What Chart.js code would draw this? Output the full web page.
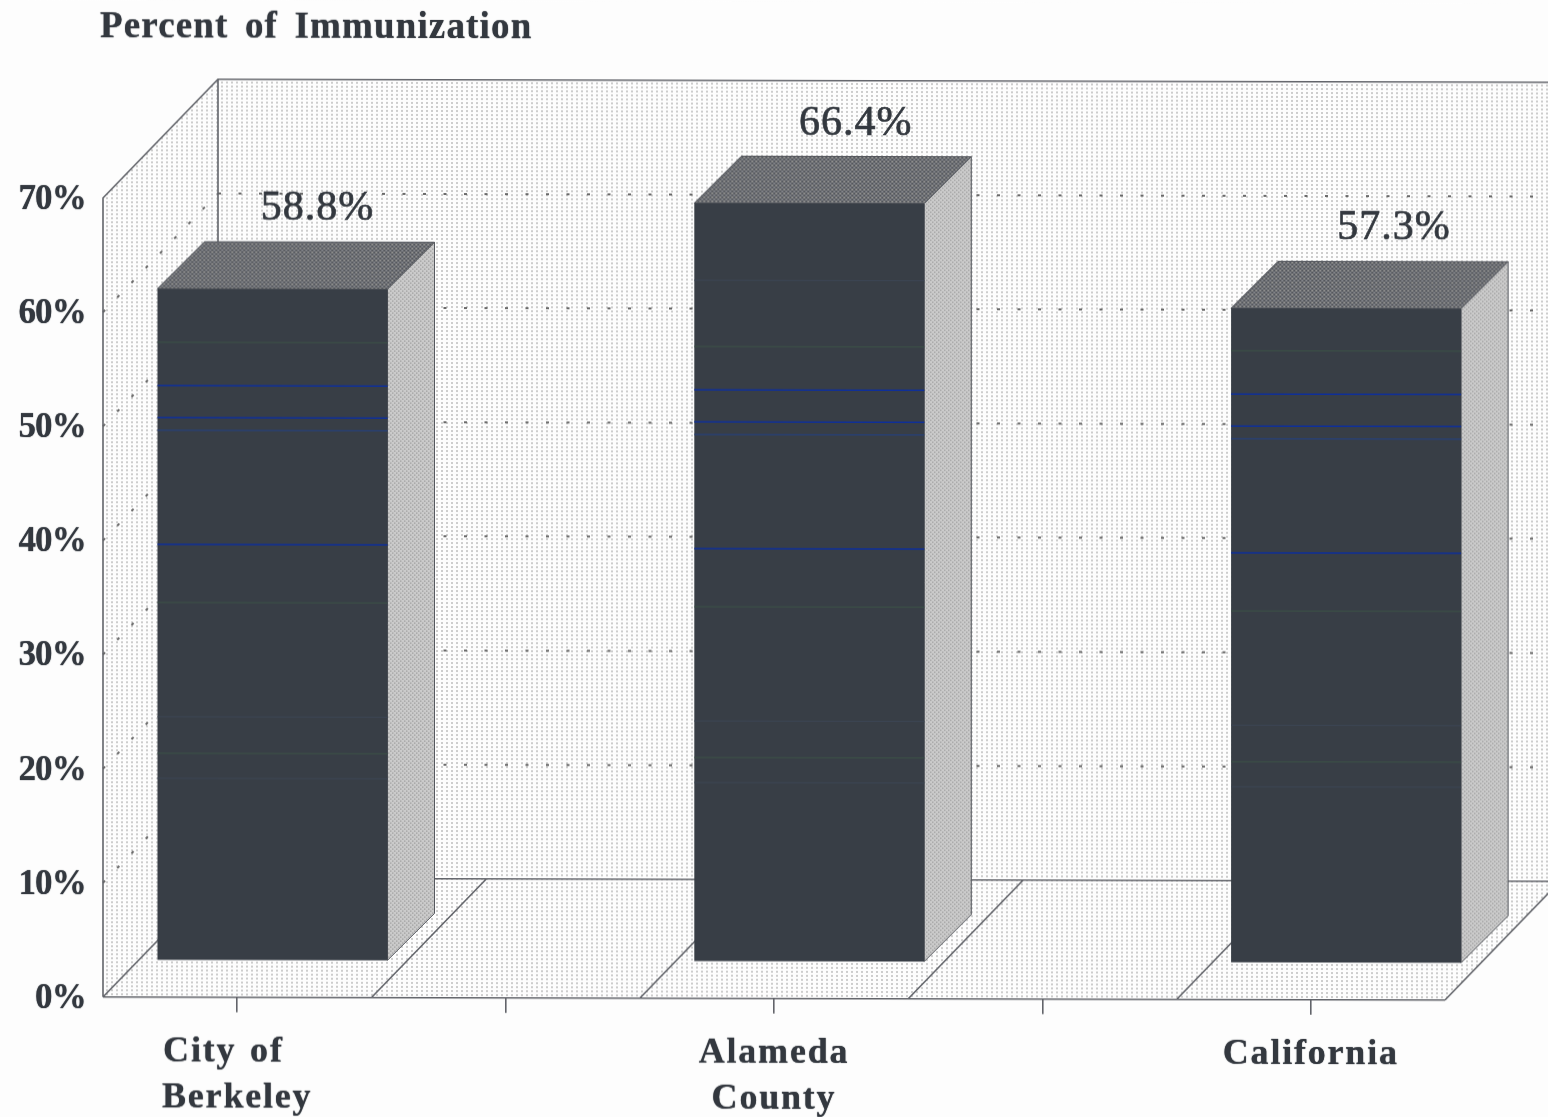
<!DOCTYPE html>
<html>
<head>
<meta charset="utf-8">
<title>Percent of Immunization</title>
<style>
html,body{margin:0;padding:0;background:#fdfdfd;overflow:hidden}
#wrap{width:1548px;height:1117px;overflow:hidden;background:#fdfdfd}
canvas{display:block;transform-origin:0 0;transform:matrix(1,0.00228,0,1,0,0);filter:blur(0.45px)}
</style>
<script src="https://cdn.jsdelivr.net/npm/chart.js@4"></script>
</head>
<body>
<div id="wrap"><canvas id="c" width="1548" height="1117"></canvas></div>
<script>
const titleText = "Percent of Immunization";
const categories = [["City of  ", "Berkeley"], "", ["Alameda", "County"], "", "California"];
const percentValues = [58.8, null, 66.4, null, 57.3];
const axisMax = 70;
const axisStep = 10;
const streakBlue = [50.3, 47.5, 36.4];
const streakBlueFaint = [46.4];
const streakGreen = [54.1, 31.3, 18.1];
const streakFaint = [59.9, 21.3, 15.9];

const INK = '#33383f', LINE = '#62646a', BAR = '#383e46';
const WALL = {dx: 115, dy: -119}, BARPLANE = {dx: 35.3, dy: -37.4}, DEPTH = 47;

function tile(w, h, bg, dots) {
  const t = document.createElement('canvas'); t.width = w; t.height = h;
  const g = t.getContext('2d'); g.fillStyle = bg; g.fillRect(0, 0, w, h);
  dots.forEach(d => { g.fillStyle = d[3]; g.fillRect(d[0], d[1], d[2], d[2]); });
  return t;
}

function wrapText(obj, name, chart, dx, dy, ls, ws) {
  const orig = obj[name].bind(obj);
  obj[name] = function (a) {
    const c = chart.ctx; c.save(); c.translate(dx, dy);
    c.letterSpacing = ls; c.wordSpacing = ws;
    c.shadowColor = INK; c.shadowBlur = 1;
    orig(a); c.restore();
  };
}

const scene = {
  id: 'scene',
  afterLayout(chart) {
    if (chart._wrappedText) return;
    chart._wrappedText = true;
    wrapText(chart.titleBlock, 'draw', chart, -3, 1, '1.15px', '6px');
    wrapText(chart.scales.x, 'drawLabels', chart, 0, 0, '1.8px', '3px');
    wrapText(chart.scales.y, 'drawLabels', chart, 0, 2, '-0.8px', '0px');
  },
  beforeDraw(chart) {
    const c = chart.ctx, a = chart.chartArea, y = chart.scales.y;
    const wallPat = c.createPattern(tile(5, 4, '#fdfdfd', [[1, 1, 2, '#cdcdcd']]), 'repeat');
    const L = a.left, R = a.right + 140, B = a.bottom, T = a.top;
    c.save();
    c.fillStyle = '#fdfdfd'; c.fillRect(-10, -10, 1600, 1200);
    c.fillStyle = wallPat;
    c.beginPath();
    c.moveTo(L, T); c.lineTo(L + WALL.dx, T + WALL.dy); c.lineTo(R + WALL.dx, T + WALL.dy);
    c.lineTo(R + WALL.dx, B + WALL.dy); c.lineTo(a.right + WALL.dx, B + WALL.dy);
    c.lineTo(a.right, B); c.lineTo(L, B); c.closePath(); c.fill();
    c.strokeStyle = '#6a6a6a'; c.lineWidth = 2; c.setLineDash([3, 17.5]);
    y.ticks.forEach(t => {
      if (t.value <= 0 || t.value >= axisMax) return;
      const p = y.getPixelForValue(t.value);
      c.beginPath(); c.moveTo(L + WALL.dx, p + WALL.dy); c.lineTo(R + WALL.dx, p + WALL.dy); c.stroke();
      c.beginPath(); c.moveTo(L, p); c.lineTo(L + WALL.dx, p + WALL.dy); c.stroke();
    });
    c.setLineDash([]);
    c.strokeStyle = LINE; c.lineWidth = 1.6;
    c.beginPath();
    c.moveTo(L, B); c.lineTo(L, T); c.lineTo(L + WALL.dx, T + WALL.dy); c.lineTo(R + WALL.dx, T + WALL.dy);
    c.moveTo(L + WALL.dx, T + WALL.dy); c.lineTo(L + WALL.dx, B + WALL.dy);
    c.moveTo(L + WALL.dx, B + WALL.dy); c.lineTo(R + WALL.dx, B + WALL.dy);
    c.moveTo(L, B); c.lineTo(a.right, B);
    const w = (a.right - a.left) / categories.length;
    for (let i = 0; i <= categories.length; i++) {
      c.moveTo(L + i * w, B); c.lineTo(L + i * w + WALL.dx, B + WALL.dy);
    }
    c.stroke();
    c.restore();
  },
  beforeDatasetsDraw(chart) {
    const c = chart.ctx, meta = chart.getDatasetMeta(0);
    const topPat = c.createPattern(tile(4, 4, '#54575d', [[0, 0, 2, '#90908f'], [2, 2, 2, '#83858a']]), 'repeat');
    const sidePat = c.createPattern(tile(4, 4, '#cbcbcb', [[1, 1, 1, '#7d7d7d'], [3, 3, 1, '#7d7d7d']]), 'repeat');
    c.save();
    c.translate(BARPLANE.dx, BARPLANE.dy);
    meta.data.forEach((el, i) => {
      if (percentValues[i] === null) return;
      const l = el.x - el.width / 2, r = el.x + el.width / 2, t = el.y, b = el.base;
      c.strokeStyle = '#55585e'; c.lineWidth = 1;
      c.fillStyle = topPat; c.beginPath();
      c.moveTo(l, t); c.lineTo(r, t); c.lineTo(r + DEPTH, t - DEPTH); c.lineTo(l + DEPTH, t - DEPTH); c.closePath(); c.fill(); c.stroke();
      c.fillStyle = sidePat; c.beginPath();
      c.moveTo(r, t); c.lineTo(r + DEPTH, t - DEPTH); c.lineTo(r + DEPTH, b - DEPTH); c.lineTo(r, b); c.closePath(); c.fill(); c.stroke();
    });
  },
  afterDatasetsDraw(chart) {
    const c = chart.ctx, meta = chart.getDatasetMeta(0), y = chart.scales.y;
    meta.data.forEach((el, i) => {
      const v = percentValues[i];
      if (v === null) return;
      const l = el.x - el.width / 2, r = el.x + el.width / 2;
      const streak = (list, color, lw) => {
        c.strokeStyle = color; c.lineWidth = lw;
        list.forEach(s => {
          if (s >= v) return;
          const p = y.getPixelForValue(s) + i * 1.5;
          c.beginPath(); c.moveTo(l, p); c.lineTo(r, p); c.stroke();
        });
      };
      streak(streakFaint, '#3b4452', 1.2);
      streak(streakGreen, '#3b4f47', 1.2);
      streak(streakBlueFaint, '#26407a', 1.2);
      streak(streakBlue, '#0e2f9a', 1.5);
      c.save();
      c.fillStyle = INK; c.strokeStyle = INK; c.lineWidth = 0.7;
      c.font = '42px "Liberation Serif"'; c.letterSpacing = '1px';
      c.textAlign = 'center'; c.textBaseline = 'middle';
      const lx = el.x + 45 + i * 0.75;
      c.fillText(v.toFixed(1) + '%', lx, el.y - 80);
      c.strokeText(v.toFixed(1) + '%', lx, el.y - 80);
      c.restore();
    });
    c.restore();
  }
};

new Chart(document.getElementById('c'), {
  type: 'bar',
  plugins: [scene],
  data: {
    labels: categories,
    datasets: [{
      data: percentValues,
      backgroundColor: BAR,
      borderWidth: 0,
      categoryPercentage: 1,
      barPercentage: 0.857,
      clip: false
    }]
  },
  options: {
    responsive: false,
    animation: false,
    layout: {padding: {left: 0, right: 103, top: 0, bottom: 0}},
    plugins: {
      legend: {display: false},
      tooltip: {enabled: false},
      title: {
        display: true, text: titleText, align: 'start', fullSize: false,
        color: INK, font: {family: '"Liberation Serif"', size: 37, weight: 'bold'},
        padding: {top: 4, bottom: 149.4}
      }
    },
    scales: {
      y: {
        min: 0, max: axisMax,
        afterFit(s) { s.width = 103; },
        grid: {display: false, drawTicks: false, tickLength: 0}, border: {display: false},
        ticks: {
          stepSize: axisStep, padding: 17, color: INK,
          font: {family: '"Liberation Serif"', size: 35, weight: 'bold'},
          callback: v => v + '%'
        }
      },
      x: {
        afterFit(s) { s.height = 120.2; },
        grid: {offset: false, drawOnChartArea: false, drawTicks: true, tickLength: 15, tickColor: LINE, lineWidth: 1.6},
        border: {display: false},
        ticks: {
          autoSkip: false, maxRotation: 0, minRotation: 0, padding: 17, color: INK,
          font: {family: '"Liberation Serif"', size: 36, weight: 'bold', lineHeight: 1.28}
        }
      }
    }
  }
});
</script>
</body>
</html>
